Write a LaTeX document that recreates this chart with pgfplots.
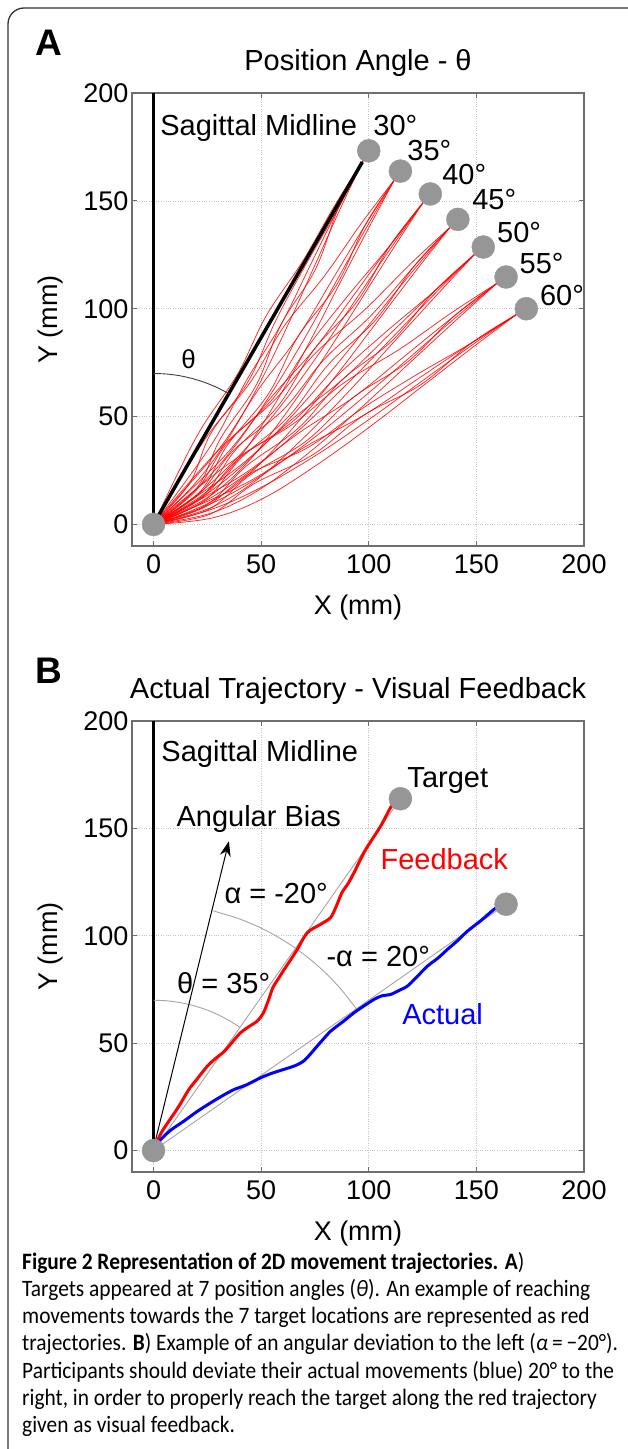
\documentclass[border=0pt]{standalone}
\usepackage{fontspec}
\setmainfont{Liberation Sans}
\newfontfamily\capfont{Carlito}[FakeStretch=0.91]
\usepackage{pgfplots}
\pgfplotsset{compat=1.18}
\usetikzlibrary{arrows.meta}
\definecolor{tgray}{RGB}{150,150,150}
\definecolor{framegray}{RGB}{110,110,110}
\definecolor{gridgray}{RGB}{195,195,195}
\definecolor{thingray}{RGB}{165,165,165}
\newcommand\tf{\fontsize{27pt}{32pt}\selectfont}
\newcommand\af{\fontsize{29pt}{34pt}\selectfont}
\newcommand\cf{\fontsize{23.5pt}{27.3pt}\selectfont}
\pgfplotsset{
  panel/.style={
    scale only axis, width=452pt, clip=false,
    xmin=-10,xmax=200,ymin=-10,ymax=200,
    xtick={0,50,100,150,200}, ytick={0,50,100,150,200},
    tick pos=both, tick align=inside,
    major tick length=5pt,
    axis line style={framegray, line width=1.1pt},
    every tick/.style={framegray, line width=1pt},
    grid=major, major grid style={gridgray, dotted, line width=0.7pt},
    ticklabel style={font=\tf},
    /pgf/number format/assume math mode=true,
    xticklabel style={yshift=-5.5pt},
    label style={font=\tf},
    xlabel={X (mm)}, ylabel={Y (mm)},
    xlabel style={at={(rel axis cs:0.5,-0.1508)}, anchor=base},
    ylabel style={at={(rel axis cs:-0.164,0.5)}, anchor=base},
  },
  traj/.style={red, line width=0.75pt, smooth, tension=0.6, opacity=0.85, forget plot},
  tgt/.style={only marks, tgray, mark=*, mark size=11.5pt, mark options={draw=tgray, fill=tgray}},
}
\begin{document}
\begin{tikzpicture}
\path[use as bounding box] (0pt,0pt) rectangle (627pt,-1449pt);
\fill[white] (0pt,0pt) rectangle (627pt,-1449pt);
\draw[line width=1.3pt, black!80] (8pt,-1470pt) -- (8pt,-24pt) arc[start angle=180, end angle=90, radius=16pt] -- (650pt,-8pt);

% ---------------- Panel A ----------------
\node[anchor=base west, inner sep=0, font=\fontsize{37pt}{40pt}\selectfont\bfseries] at (35pt,-55pt) {A};
\node[anchor=base, inner sep=0, font=\af] at (358pt,-70pt) {Position Angle - θ};
\begin{axis}[panel, height=453pt, at={(132pt,-546pt)}, anchor=south west]
\addplot[black, line width=3.5pt] coordinates {(0,3) (0,200)};
% 30 deg
\addplot[traj] coordinates {(0,0) (18.6,18.2) (33.7,38.3) (48.7,64.3) (61.9,91.3) (74.3,118.7) (86.7,146.2) (97.5,168.9)};
\addplot[traj] coordinates {(0,0) (15.1,20.2) (29.3,40.8) (43.5,67.3) (59.3,92.8) (72.6,119.7) (85.9,146.7) (97.5,168.9)};
\addplot[traj] coordinates {(0,0) (10.8,22.7) (22.4,44.8) (39.1,69.8) (52.4,96.8) (69.1,121.7) (84.1,147.7) (97.5,168.9)};
\addplot[traj] coordinates {(0,0) (16.8,19.2) (26.7,42.3) (44.3,66.8) (56.7,94.3) (70.9,120.7) (85.9,146.7) (97.5,168.9)};
\addplot[traj] coordinates {(0,0) (20.3,17.2) (31.1,39.8) (47.8,64.8) (59.3,92.8) (75.2,118.2) (85.9,146.7) (97.5,168.9)};
% 35 deg
\addplot[traj] coordinates {(0,0) (20.1,16.5) (36.9,35.2) (54.1,59.8) (69.7,85.5) (84.4,111.8) (99.2,138.1) (111.9,159.7)};
\addplot[traj] coordinates {(0,0) (16.8,18.8) (32.8,38.1) (49.2,63.2) (67.2,87.2) (82.8,113.0) (98.3,138.7) (111.9,159.7)};
\addplot[traj] coordinates {(0,0) (23.4,14.2) (41.0,32.4) (57.4,57.5) (72.1,83.8) (86.0,110.7) (100.0,137.5) (111.9,159.7)};
\addplot[traj] coordinates {(0,0) (12.7,21.6) (26.2,42.7) (45.1,66.1) (60.6,91.8) (79.5,115.3) (96.7,139.8) (111.9,159.7)};
\addplot[traj] coordinates {(0,0) (21.7,15.3) (34.4,36.9) (53.3,60.4) (67.2,87.2) (85.2,111.3) (98.3,138.7) (111.9,159.7)};
% 40 deg
\addplot[traj] coordinates {(0,0) (21.4,14.7) (39.8,31.9) (59.1,54.9) (76.8,79.1) (93.8,104.0) (110.8,128.9) (125.4,149.4)};
\addplot[traj] coordinates {(0,0) (19.9,15.9) (33.7,37.0) (55.3,58.1) (72.2,83.0) (90.8,106.6) (110.1,129.6) (125.4,149.4)};
\addplot[traj] coordinates {(0,0) (24.5,12.1) (43.6,28.7) (62.1,52.3) (79.1,77.2) (95.4,102.7) (111.6,128.3) (125.4,149.4)};
\addplot[traj] coordinates {(0,0) (18.4,17.2) (36.0,35.1) (54.5,58.7) (74.5,81.0) (92.3,105.3) (110.1,129.6) (125.4,149.4)};
\addplot[traj] coordinates {(0,0) (23.0,13.4) (37.5,33.8) (58.3,55.5) (74.5,81.0) (94.6,103.4) (110.1,129.6) (125.4,149.4)};
% 45 deg
\addplot[traj] coordinates {(0,0) (22.6,12.7) (42.4,28.3) (63.6,49.5) (83.4,72.1) (102.5,95.5) (121.6,118.8) (137.9,137.9)};
\addplot[traj] coordinates {(0,0) (16.3,19.1) (33.2,37.5) (55.9,57.3) (75.7,79.9) (98.3,99.7) (119.5,120.9) (137.9,137.9)};
\addplot[traj] coordinates {(0,0) (25.5,9.9) (46.0,24.8) (66.5,46.7) (85.6,70.0) (103.9,94.0) (122.3,118.1) (137.9,137.9)};
\addplot[traj] coordinates {(0,0) (21.2,14.1) (36.8,34.0) (60.1,53.0) (79.2,76.4) (101.1,96.9) (120.9,119.5) (137.9,137.9)};
\addplot[traj] coordinates {(0,0) (24.0,11.3) (40.3,30.4) (62.9,50.2) (81.3,74.2) (103.2,94.8) (120.9,119.5) (137.9,137.9)};
% 50 deg
\addplot[traj] coordinates {(0,0) (23.7,10.7) (44.7,24.5) (67.7,43.8) (89.4,64.6) (110.5,86.2) (131.5,107.8) (149.4,125.4)};
\addplot[traj] coordinates {(0,0) (21.1,13.8) (41.5,28.3) (63.9,48.4) (87.5,66.9) (109.2,87.7) (130.9,108.5) (149.4,125.4)};
\addplot[traj] coordinates {(0,0) (26.2,7.6) (48.0,20.7) (70.3,40.7) (91.3,62.3) (111.7,84.6) (132.2,107.0) (149.4,125.4)};
\addplot[traj] coordinates {(0,0) (22.4,12.2) (39.6,30.6) (64.5,47.6) (85.6,69.2) (107.9,89.2) (130.9,108.5) (149.4,125.4)};
\addplot[traj] coordinates {(0,0) (24.9,9.2) (42.8,26.8) (67.1,44.5) (87.5,66.9) (111.1,85.4) (130.9,108.5) (149.4,125.4)};
% 55 deg
\addplot[traj] coordinates {(0,0) (24.5,8.6) (46.7,20.5) (71.3,37.7) (94.7,56.6) (117.6,76.2) (140.4,95.9) (159.7,111.9)};
\addplot[traj] coordinates {(0,0) (19.3,16.0) (39.2,31.1) (65.0,46.7) (88.4,65.6) (114.1,81.1) (138.7,98.3) (159.7,111.9)};
\addplot[traj] coordinates {(0,0) (26.8,5.3) (49.6,16.4) (73.6,34.4) (96.4,54.1) (118.7,74.6) (141.0,95.1) (159.7,111.9)};
\addplot[traj] coordinates {(0,0) (22.2,11.9) (43.8,24.6) (67.8,42.6) (93.0,59.0) (116.4,77.8) (139.8,96.7) (159.7,111.9)};
\addplot[traj] coordinates {(0,0) (25.6,7.0) (45.0,23.0) (70.7,38.5) (93.0,59.0) (118.1,75.4) (139.8,96.7) (159.7,111.9)};
% 60 deg
\addplot[traj] coordinates {(0,0) (25.2,6.4) (48.3,16.3) (74.3,31.3) (99.3,48.1) (123.7,65.7) (148.2,83.3) (168.9,97.5)};
\addplot[traj] coordinates {(0,0) (23.2,9.9) (45.8,20.7) (71.3,36.5) (97.8,50.7) (122.7,67.4) (147.7,84.1) (168.9,97.5)};
\addplot[traj] coordinates {(0,0) (27.2,3.0) (50.8,12.0) (76.3,27.9) (100.8,45.5) (124.7,63.9) (148.7,82.4) (168.9,97.5)};
\addplot[traj] coordinates {(0,0) (24.2,8.2) (44.3,23.3) (71.8,35.7) (96.3,53.3) (121.7,69.1) (147.7,84.1) (168.9,97.5)};
\addplot[traj] coordinates {(0,0) (26.2,4.7) (46.8,18.9) (73.8,32.2) (97.8,50.7) (124.2,64.8) (147.7,84.1) (168.9,97.5)};
% 30 deg reference line and theta arc
\addplot[black, line width=3.5pt] coordinates {(0.5,1) (97,168)};
\addplot[black!75, line width=0.9pt, smooth] coordinates {(0,70) (6.10,69.73) (12.16,68.94) (18.12,67.61) (23.94,65.78) (29.58,63.44) (35,60.62)};
\addplot[tgt] coordinates {(0,0) (100,173.2) (114.7,163.8) (128.6,153.2) (141.4,141.4) (153.2,128.6) (163.8,114.7) (173.2,100)};
\begin{scope}[every node/.style={anchor=base west, inner sep=0, font=\af}]
\node at (axis cs:3.1,180.5) {Sagittal Midline};
\node at (axis cs:102.1,180.5) {30°};
\node at (axis cs:117.9,168.6) {35°};
\node at (axis cs:134.1,157.7) {40°};
\node at (axis cs:148,146) {45°};
\node at (axis cs:159.6,130.6) {50°};
\node at (axis cs:170,116.2) {55°};
\node at (axis cs:179.5,101.5) {60°};
\node[anchor=base, font=\fontsize{26pt}{30pt}\selectfont] at (axis cs:16.3,72.2) {θ};
\end{scope}
\end{axis}

% ---------------- Panel B ----------------
\node[anchor=base west, inner sep=0, font=\fontsize{37pt}{40pt}\selectfont\bfseries] at (35pt,-683pt) {B};
\node[anchor=base, inner sep=0, font=\af] at (358pt,-698pt) {Actual Trajectory - Visual Feedback};
\begin{axis}[panel, height=451pt, at={(132pt,-1172pt)}, anchor=south west]
\addplot[black, line width=3.5pt] coordinates {(0,3) (0,200)};
\addplot[thingray, line width=0.9pt] coordinates {(0,0) (114.7,163.8)};
\addplot[thingray, line width=0.9pt] coordinates {(0,0) (163.8,114.7)};
\addplot[thingray, line width=0.9pt, smooth] coordinates {(0,70) (6.10,69.73) (12.16,68.94) (18.12,67.61) (23.94,65.78) (29.58,63.44) (35,60.62) (40.15,57.34)};
\addplot[thingray, line width=0.9pt, smooth] coordinates {(27.82,111.58) (39.33,108.06) (48.60,104.23) (57.5,99.59) (65.96,94.20) (73.92,88.10) (81.32,81.32) (88.10,73.92) (94.20,65.96)};
\addplot[black, line width=1pt, -{Stealth[length=15pt,width=11pt]}] coordinates {(0.5,3) (35,144)};
\addplot[red, line width=3pt, smooth, tension=0.5] coordinates {(1.5,4) (4,9) (8.7,16) (12,21) (16.4,28.4) (20,33) (25,39.3) (29,43) (33,46.3) (37,51) (40.5,54.9) (44,57.5) (48.2,60.3) (51,64) (53.4,70) (55.5,76) (58,80) (60.5,84) (63.5,88.5) (66.8,93.7) (71.5,101.5) (77.7,105.4) (82.3,108.5) (85,114) (87.5,120) (90.5,124.5) (93.2,129.5) (97.8,138.8) (101,144) (105.6,151.2) (110.2,159.8) (113,163)};
\addplot[blue, line width=3pt, smooth, tension=0.5] coordinates {(2,3) (3.3,5.1) (8,9.5) (14.1,13.7) (20,18) (26.5,22.2) (32,25.5) (37.4,28.4) (43,30.5) (49.8,33.9) (55,36) (60.6,37.8) (66,39.6) (69.5,41.5) (72.5,44.5) (75.5,48) (79,52) (82.3,55.6) (88,60) (93.2,64.2) (98,67.5) (102.5,70.4) (106,72) (110.2,72.7) (114,74.5) (118,76.6) (122,80.5) (127.3,85.9) (132,89.5) (136.6,93.7) (141,97.5) (145.9,102.2) (152,107) (158.3,112.4) (161,114)};
\addplot[tgt] coordinates {(0,0) (114.7,163.8) (163.8,114.7)};
\begin{scope}[every node/.style={anchor=base west, inner sep=0, font=\af}]
\node at (axis cs:3.6,181.1) {Sagittal Midline};
\node at (axis cs:117.9,169.2) {Target};
\node at (axis cs:10.6,150.8) {Angular Bias};
\node[text=red] at (axis cs:105.4,130.7) {Feedback};
\node at (axis cs:32.9,115.2) {α = -20°};
\node at (axis cs:80.3,85.7) {-α = 20°};
\node at (axis cs:10.9,73.3) {θ = 35°};
\node[text=blue] at (axis cs:115.5,58.6) {Actual};
\end{scope}
\end{axis}

% ---------------- Caption ----------------
\begin{scope}[every node/.style={anchor=base west, inner sep=0, font=\capfont\cf}]
\node at (22pt,-1269pt) {\textbf{Figure 2 Representation of 2D movement trajectories. A})};
\node at (22pt,-1296.3pt) {Targets appeared at 7 position angles (\textit{θ}). An example of reaching};
\node at (22pt,-1323.6pt) {movements towards the 7 target locations are represented as red};
\node at (22pt,-1350.9pt) {trajectories. \textbf{B}) Example of an angular deviation to the left (\textit{α}\,=\,−20°).};
\node at (22pt,-1378.2pt) {Participants should deviate their actual movements (blue) 20° to the};
\node at (22pt,-1405.5pt) {right, in order to properly reach the target along the red trajectory};
\node at (22pt,-1432.8pt) {given as visual feedback.};
\end{scope}
\end{tikzpicture}
\end{document}
